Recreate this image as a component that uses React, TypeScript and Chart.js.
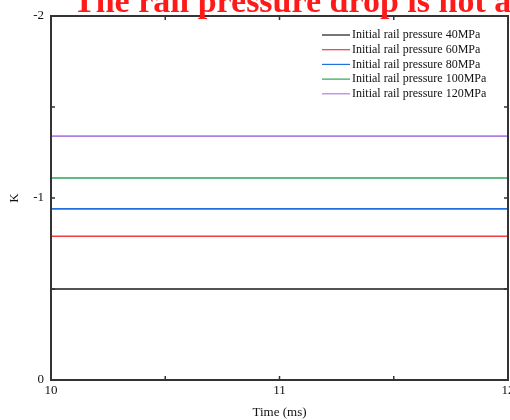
import React, { useEffect, useRef } from "react";
import { Chart, registerables } from "chart.js";

Chart.register(...registerables);

// Time axis samples (ms)
const timeMs = [10, 10.5, 11, 11.5, 12];

// K values for each initial rail pressure
const k40 = [-0.5, -0.5, -0.5, -0.5, -0.5];
const k60 = [-0.79, -0.79, -0.79, -0.79, -0.79];
const k80 = [-0.94, -0.94, -0.94, -0.94, -0.94];
const k100 = [-1.11, -1.11, -1.11, -1.11, -1.11];
const k120 = [-1.34, -1.34, -1.34, -1.34, -1.34];

const seriesLabels = [
  "Initial rail pressure 40MPa",
  "Initial rail pressure 60MPa",
  "Initial rail pressure 80MPa",
  "Initial rail pressure 100MPa",
  "Initial rail pressure 120MPa",
];
const seriesValues = [k40, k60, k80, k100, k120];
const seriesColors = ["#1a1a1a", "#f03c3c", "#1f6fe0", "#2ea35a", "#b07fe6"];

const xTicks = [10, 10.5, 11, 11.5, 12];
const yTicks = [-2, -1.5, -1, -0.5, 0];

const headline = "The rail pressure drop is not a";

const SERIF = "'Liberation Serif', 'Times New Roman', serif";

// Inward tick marks on all four sides, plus the frame
const frameTicks = {
  id: "frameTicks",
  afterDatasetsDraw(chart: any) {
    const { ctx, chartArea: a, scales } = chart;
    ctx.save();
    ctx.strokeStyle = "#333";
    ctx.lineWidth = 1.5;
    for (const v of xTicks) {
      const x = scales.x.getPixelForValue(v);
      ctx.beginPath();
      ctx.moveTo(x, a.bottom);
      ctx.lineTo(x, a.bottom - 4);
      ctx.moveTo(x, a.top);
      ctx.lineTo(x, a.top + 4);
      ctx.stroke();
    }
    for (const v of yTicks) {
      const y = scales.y.getPixelForValue(v);
      ctx.beginPath();
      ctx.moveTo(a.left, y);
      ctx.lineTo(a.left + 4, y);
      ctx.moveTo(a.right, y);
      ctx.lineTo(a.right - 4, y);
      ctx.stroke();
    }
    ctx.lineWidth = 2;
    ctx.strokeRect(a.left, a.top, a.right - a.left, a.bottom - a.top);
    ctx.restore();
  },
};

// Legend in the upper right of the plot area
const innerLegend = {
  id: "innerLegend",
  afterDatasetsDraw(chart: any) {
    const { ctx } = chart;
    ctx.save();
    ctx.font = `12px ${SERIF}`;
    ctx.textBaseline = "middle";
    ctx.textAlign = "left";
    chart.data.datasets.forEach((ds: any, i: number) => {
      const y = 35 + i * 14.7;
      ctx.strokeStyle = ds.borderColor;
      ctx.lineWidth = 1.2;
      ctx.beginPath();
      ctx.moveTo(322, y);
      ctx.lineTo(350, y);
      ctx.stroke();
      ctx.fillStyle = "#111";
      ctx.fillText(ds.label, 352, y);
    });
    ctx.restore();
  },
};

// Red headline across the top edge
const headlinePlugin = {
  id: "headline",
  afterDraw(chart: any) {
    const { ctx } = chart;
    ctx.save();
    ctx.font = `bold 34px ${SERIF}`;
    ctx.fillStyle = "#ff1a1a";
    ctx.textBaseline = "alphabetic";
    ctx.textAlign = "left";
    ctx.fillText(headline, 73, 12);
    ctx.restore();
  },
};

export default function App() {
  const canvasRef = useRef<HTMLCanvasElement | null>(null);

  useEffect(() => {
    if (!canvasRef.current) return;
    const chart = new Chart(canvasRef.current, {
      type: "line",
      data: {
        datasets: seriesValues.map((vals, i) => ({
          label: seriesLabels[i],
          data: vals.map((v, j) => ({ x: timeMs[j], y: v })),
          borderColor: seriesColors[i],
          backgroundColor: seriesColors[i],
          borderWidth: 1.6,
          pointRadius: 0,
          tension: 0,
        })),
      },
      options: {
        animation: false,
        responsive: false,
        maintainAspectRatio: false,
        layout: { padding: { top: 16, right: 2, left: 0, bottom: 0 } },
        plugins: {
          legend: { display: false },
          tooltip: { enabled: false },
          title: { display: false },
        },
        scales: {
          x: {
            type: "linear",
            min: 10,
            max: 12,
            afterFit: (s: any) => {
              s.height = 40;
              s.paddingLeft = 0;
              s.paddingRight = 0;
            },
            afterBuildTicks: (s: any) => {
              s.ticks = [10, 11, 12].map((v) => ({ value: v }));
            },
            grid: { display: false, drawTicks: false },
            border: { display: false },
            ticks: {
              padding: 3,
              color: "#111",
              font: { family: SERIF, size: 13 },
              maxRotation: 0,
              callback: (v: any) => String(v),
            },
            title: {
              display: true,
              text: "Time (ms)",
              color: "#111",
              font: { family: SERIF, size: 13 },
              padding: { top: 5, bottom: 0 },
            },
          },
          y: {
            type: "linear",
            min: -2,
            max: 0,
            reverse: true,
            afterFit: (s: any) => {
              s.width = 51;
              s.paddingTop = 0;
              s.paddingBottom = 0;
            },
            afterBuildTicks: (s: any) => {
              s.ticks = [-2, -1, 0].map((v) => ({ value: v }));
            },
            grid: { display: false, drawTicks: false },
            border: { display: false },
            ticks: {
              padding: 7,
              color: "#111",
              font: { family: SERIF, size: 13 },
              callback: (v: any) => String(v),
            },
            title: {
              display: true,
              text: "K",
              color: "#111",
              font: { family: SERIF, size: 13 },
              padding: { top: 7, bottom: 0 },
            },
          },
        },
      },
      plugins: [frameTicks, innerLegend, headlinePlugin],
    });
    return () => chart.destroy();
  }, []);

  return (
    <div style={{ position: "fixed", left: 0, top: 0, width: 510, height: 420, background: "#fff" }}>
      <canvas ref={canvasRef} width={510} height={420} style={{ display: "block" }} />
    </div>
  );
}
